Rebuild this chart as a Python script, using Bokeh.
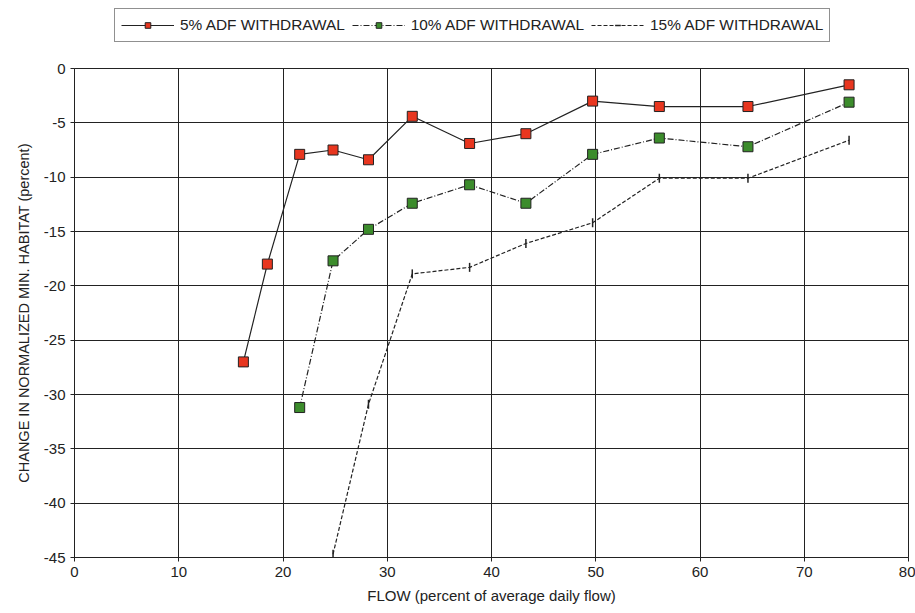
import math
from bokeh.plotting import figure
from bokeh.layouts import column
from bokeh.models import Legend, LegendItem, FixedTicker
from bokeh.embed import file_html
from bokeh.resources import INLINE

# Data
flow_5 = [16.2, 18.5, 21.6, 24.8, 28.2, 32.4, 37.9, 43.3, 49.7, 56.1, 64.6, 74.3]
chg_5 = [-27.0, -18.0, -7.9, -7.5, -8.4, -4.4, -6.9, -6.0, -3.0, -3.5, -3.5, -1.5]

flow_10 = [21.6, 24.8, 28.2, 32.4, 37.9, 43.3, 49.7, 56.1, 64.6, 74.3]
chg_10 = [-31.2, -17.7, -14.8, -12.4, -10.7, -12.4, -7.9, -6.4, -7.2, -3.1]

flow_15 = [24.8, 28.2, 32.4, 37.9, 43.3, 49.7, 56.1, 64.6, 74.3]
chg_15 = [-44.7, -30.9, -18.9, -18.3, -16.1, -14.2, -10.1, -10.1, -6.6]

labels = ["5% ADF WITHDRAWAL", "10% ADF WITHDRAWAL", "15% ADF WITHDRAWAL"]
x_ticks = [0, 10, 20, 30, 40, 50, 60, 70, 80]
y_ticks = [0, -5, -10, -15, -20, -25, -30, -35, -40, -45]
y_tick_labels = ["0", "-5", "-10", "-15", "-20", "-25", "-30", "-35", "-40", "-45"]

FONT = "Liberation Sans"
INK = "#222222"

series = [
    (flow_5, chg_5, None, dict(marker="square", size=10, fill_color="#e8361f", line_color=INK, line_width=1)),
    (flow_10, chg_10, "6 2 1 2", dict(marker="square", size=10, fill_color="#3c8c2c", line_color=INK, line_width=1)),
    (flow_15, chg_15, "4 2", dict(marker="dash", angle=math.pi / 2, size=9, line_color=INK, line_width=1.5)),
]


def draw(fig, marker_scale=1.0):
    rends = []
    for xs, ys, dash, mk in series:
        lkw = dict(line_color=INK, line_width=1.2)
        if dash:
            lkw["line_dash"] = dash
        ln = fig.line(xs, ys, **lkw)
        mk2 = dict(mk)
        mk2["size"] = mk["size"] * marker_scale
        sc = fig.scatter(xs, ys, **mk2)
        rends.append((ln, sc))
    return rends


# ---- legend strip (top) ----
top = figure(
    frame_width=915, frame_height=55,
    x_range=(0, 80), y_range=(1000, 1001),
    x_axis_type=None, y_axis_type=None,
    output_backend="svg", toolbar_location=None,
    min_border=0,
)
top.outline_line_color = None
top.xgrid.visible = False
top.ygrid.visible = False
top_rends = draw(top, marker_scale=0.85)

legend = Legend(
    items=[LegendItem(label=lab, renderers=list(r)) for lab, r in zip(labels, top_rends)],
    orientation="horizontal",
    location=(114, 13),
    border_line_color=INK,
    border_line_width=1,
    background_fill_color="white",
    background_fill_alpha=1,
    label_text_font=FONT,
    label_text_font_size="15.4px",
    label_text_color=INK,
    label_height=20,
    glyph_width=53,
    glyph_height=14,
    spacing=7,
    padding=6,
    margin=0,
    label_standoff=6,
)
top.add_layout(legend, "center")

# ---- main chart ----
p = figure(
    frame_width=834, frame_height=489,
    x_range=(0, 80), y_range=(-45, 0),
    output_backend="svg", toolbar_location=None,
    min_border_left=74, min_border_right=7, min_border_top=13, min_border_bottom=56,
)
p.background_fill_color = "white"
p.border_fill_color = "white"
p.outline_line_color = INK
p.outline_line_width = 1

for ax in (p.xaxis[0], p.yaxis[0]):
    ax.axis_line_color = INK
    ax.major_tick_line_color = INK
    ax.major_tick_out = 4
    ax.major_tick_in = 0
    ax.minor_tick_line_color = None
    ax.major_label_text_font = FONT
    ax.major_label_text_font_size = "15px"
    ax.major_label_text_color = INK
    ax.axis_label_text_font = FONT
    ax.axis_label_text_font_style = "normal"
    ax.axis_label_text_color = INK

p.xaxis.axis_label_text_font_size = "15px"
p.yaxis.axis_label_text_font_size = "14.5px"
p.xaxis.ticker = FixedTicker(ticks=x_ticks)
p.yaxis.ticker = FixedTicker(ticks=y_ticks)
p.yaxis.major_label_overrides = {t: s for t, s in zip(y_ticks, y_tick_labels)}
p.xaxis.axis_label = "FLOW (percent of average daily flow)"
p.yaxis.axis_label = "CHANGE IN NORMALIZED MIN. HABITAT (percent)"
p.xaxis.axis_label_standoff = 7
p.yaxis.axis_label_standoff = 9
p.xaxis.major_label_standoff = 5
p.yaxis.major_label_standoff = 5

p.xgrid.grid_line_color = INK
p.ygrid.grid_line_color = INK
p.xgrid.grid_line_width = 1
p.ygrid.grid_line_width = 1

draw(p)

layout = column(top, p, spacing=0)
open("out.html", "w").write(file_html(layout, INLINE))
